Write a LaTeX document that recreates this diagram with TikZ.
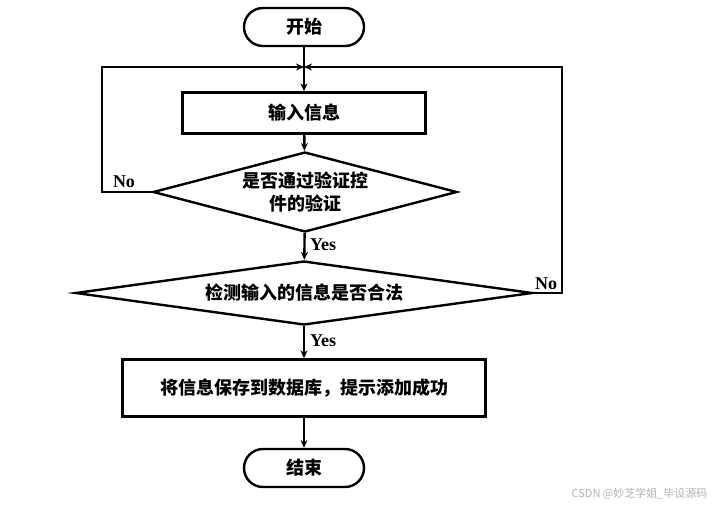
\documentclass[tikz,border=0pt]{standalone}
\usepackage{fontspec}
\usepackage{tikz}
\usetikzlibrary{shapes.geometric,arrows.meta}
\newfontfamily\cjk{Noto Sans CJK SC}
\newfontfamily\latinfont{Liberation Serif}

\begin{document}
\begin{tikzpicture}[x=1pt,y=-1pt,
    line width=2.4pt,
    terminal/.style={draw, rectangle, rounded corners=19pt, minimum width=120pt, minimum height=38pt, font=\cjk\bfseries\fontsize{18}{22}\selectfont},
    process/.style={draw, rectangle, minimum height=41pt, font=\cjk\bfseries\fontsize{18}{22}\selectfont},
    decision/.style={draw, diamond, inner sep=0pt, align=center, font=\cjk\bfseries\fontsize{18}{23}\selectfont},
    branch/.style={font=\latinfont\bfseries\fontsize{18}{20}\selectfont, inner sep=1pt},
    flow/.style={-{Stealth[length=8pt,width=7pt]}}]
\useasboundingbox (0,0) rectangle (719,507);

% Blocks
\node[terminal] (start) at (304,27) {开始};
\node[process, minimum width=243pt] (input) at (304,113) {输入信息};
\node[decision, aspect=3.8, minimum width=304pt, minimum height=80pt] (check) at (305,192) {是否通过验证控\\件的验证};
\node[decision, aspect=7.1, minimum width=457pt, minimum height=64pt] (legal) at (304,293) {检测输入的信息是否合法};
\node[process, minimum width=363pt, minimum height=57pt] (save) at (304,388) {将信息保存到数据库，提示添加成功};
\node[terminal] (finish) at (304,468) {结束};

% Loop corners
\coordinate (join) at (304,67);
\coordinate (lcorner) at (102,192);
\coordinate (rcorner) at (562,293);

% Main flow
\draw (start) -- (join);
\draw[flow] (join) -- (input);
\draw[flow] (input) -- (check);
\draw[flow] (check) -- (legal);
\draw[flow] (legal) -- (save);
\draw[flow] (save) -- (finish);

% Back loops
\draw[flow] (check.west) -- (lcorner) |- (join);
\draw[flow] (legal.east) -- (rcorner) |- (join);

% Branch labels
\node[branch, anchor=west] (yes1) at (308,245) {Yes};
\node[branch, anchor=west] (yes2) at (308,341) {Yes};
\node[branch] (no1) at (124,182) {No};
\node[branch] (no2) at (546,284) {No};

% Watermark
\node[gray!60, font=\cjk\fontsize{11}{13}\selectfont, anchor=east] (mark) at (712,494) {CSDN @妙芝学姐\_毕设源码};
\end{tikzpicture}
\end{document}
